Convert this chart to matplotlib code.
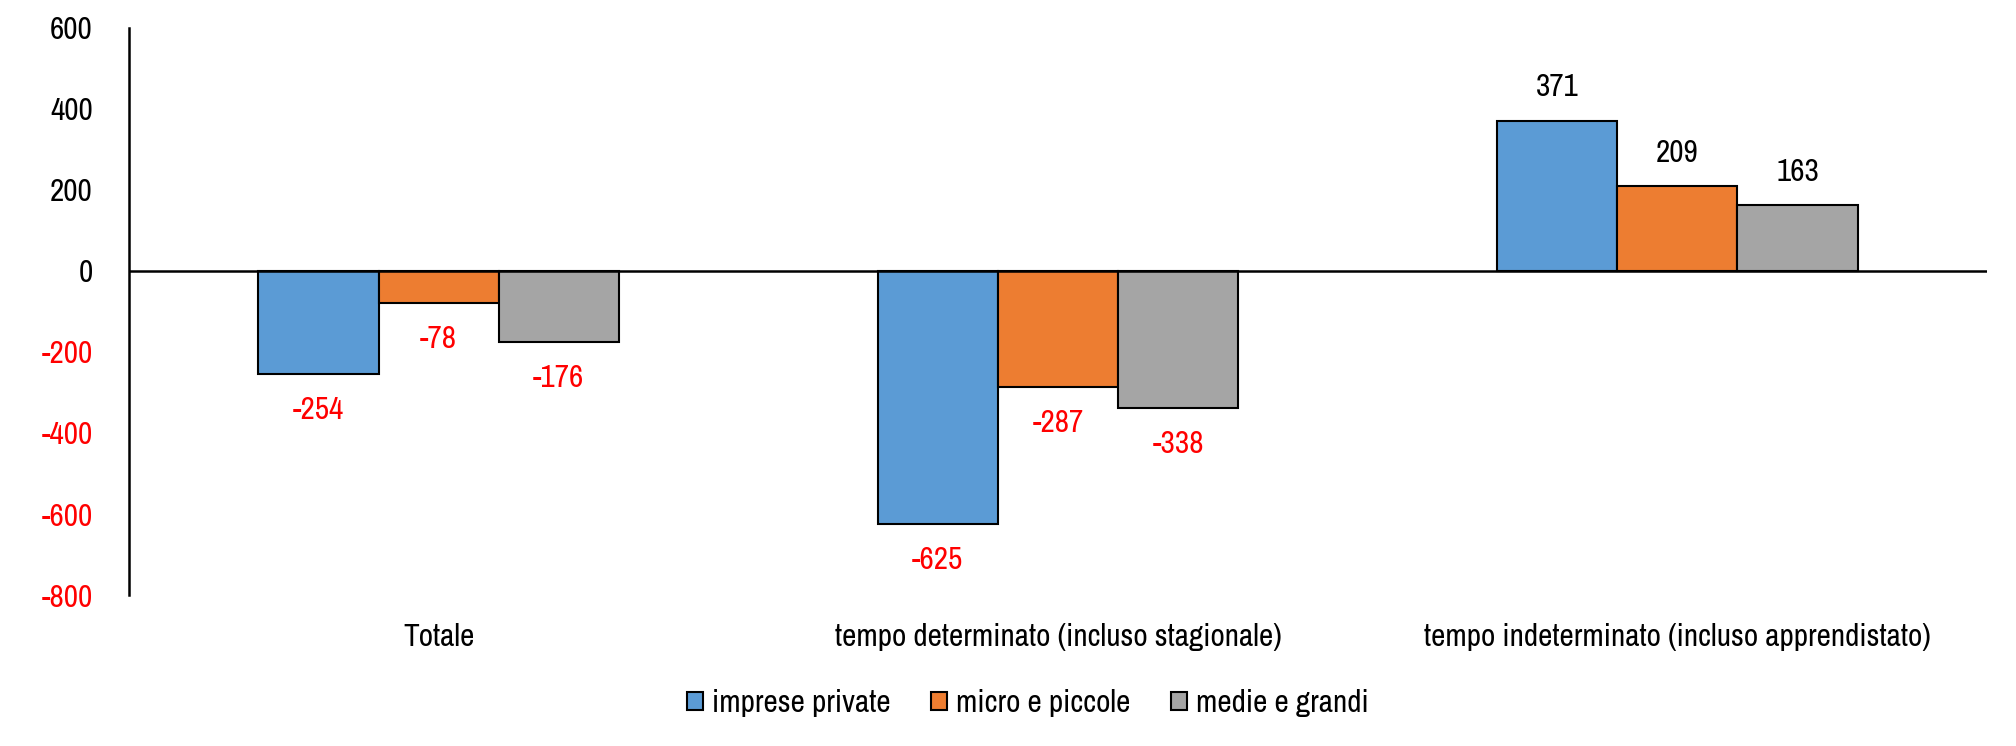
import numpy as np
import matplotlib.pyplot as plt

# Dati
categorie = ["Totale", "tempo determinato (incluso stagionale)", "tempo indeterminato (incluso apprendistato)"]
serie = ["imprese private", "micro e piccole", "medie e grandi"]
imprese_private = [-254, -625, 371]
micro_piccole = [-78, -287, 209]
medie_grandi = [-176, -338, 163]
yticks = [-800, -600, -400, -200, 0, 200, 400, 600]

colori = ["#5B9BD5", "#ED7D31", "#A5A5A5"]

plt.rcParams['font.family'] = ['Archivo Narrow', 'DejaVu Sans']
fs = 22.5

fig = plt.figure(figsize=(20.16, 7.46), dpi=100)
ax = fig.add_axes([0.064, 0.2024, 0.9216, 0.7601])

x = np.arange(len(categorie))
w = 0.194
valori = [imprese_private, micro_piccole, medie_grandi]

for i, (vals, col, nome) in enumerate(zip(valori, colori, serie)):
    pos = x + (i - 1) * w
    bars = ax.bar(pos, vals, width=w, color=col, edgecolor='black', linewidth=1.5, label=nome, zorder=2)
    for b, v in zip(bars, vals):
        c = 'red' if v < 0 else 'black'
        off = -26 if v < 0 else 24
        ax.annotate(str(v), (b.get_x() + b.get_width() / 2, v), xytext=(0, off),
                    textcoords='offset points', ha='center', va='center',
                    color=c, fontsize=fs)

ax.axhline(0, color='black', linewidth=1.8, zorder=3)
ax.set_xlim(-0.5, 2.5)
ax.set_ylim(-800, 600)
ax.set_yticks(yticks)
ax.set_yticklabels([str(t) for t in yticks], fontsize=fs)
for lab, t in zip(ax.get_yticklabels(), yticks):
    if t < 0:
        lab.set_color('red')
ax.tick_params(axis='y', length=0, pad=26)

ax.set_xticks(x)
ax.set_xticklabels(categorie, fontsize=fs)
ax.tick_params(axis='x', length=0, pad=20)

for s in ['top', 'right', 'bottom']:
    ax.spines[s].set_visible(False)
ax.spines['left'].set_linewidth(1.8)

leg = fig.legend(loc='center', bbox_to_anchor=(0.51, 0.058), ncol=3, frameon=False,
                 fontsize=fs, handlelength=0.5, handleheight=0.5, handletextpad=0.3,
                 columnspacing=1.3)
for p in leg.get_patches():
    p.set_linewidth(1.5)

fig.savefig("out.png", dpi=100)
